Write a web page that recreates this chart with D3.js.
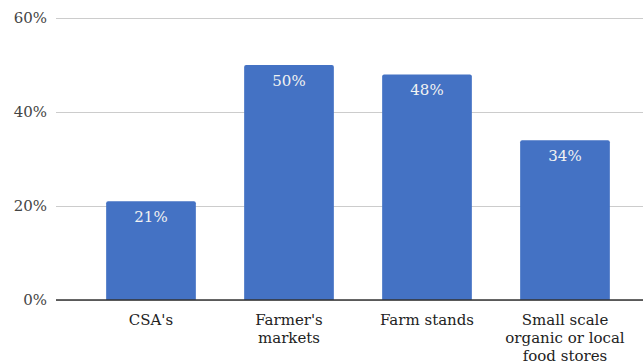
<!DOCTYPE html>
<html>
<head>
<meta charset="utf-8">
<script src="https://cdn.jsdelivr.net/npm/d3@7"></script>
<style>
  html, body { margin: 0; padding: 0; background: #fff; }
  svg { display: block; }
</style>
</head>
<body>
<svg id="chart" width="643" height="364"></svg>
<script>
// Share of respondents by outlet type
const categories = [
  ["CSA's"],
  ["Farmer's", "markets"],
  ["Farm stands"],
  ["Small scale", "organic or local", "food stores"]
];
const values = [21, 50, 48, 34];
const yTicks = [0, 20, 40, 60];

const FONT = "'DejaVu Serif', serif";
const FS = 15;

const svg = d3.select("#chart");
const width = 643, height = 364;
const plotTop = 18, plotBottom = 300;

const x = d3.scaleBand()
  .domain(d3.range(categories.length))
  .range([82, 634])
  .paddingInner(0.35)
  .paddingOuter(0.175);

const y = d3.scaleLinear().domain([0, 60]).range([plotBottom, plotTop]);

// Horizontal gridlines with percentage labels
const yAxis = d3.axisLeft(y)
  .tickValues(yTicks)
  .tickFormat(d => d + "%")
  .tickSize(-(width - 56))
  .tickPadding(9);

const gy = svg.append("g")
  .attr("transform", "translate(56,0)")
  .call(yAxis)
  .attr("font-family", FONT)
  .attr("font-size", FS);
gy.select(".domain").remove();
gy.selectAll(".tick line").attr("stroke", "#cccccc").attr("stroke-width", 1.2);
gy.selectAll(".tick text").attr("fill", "#444");

// Bars
svg.append("g").selectAll("path")
  .data(values)
  .join("path")
  .attr("fill", "#4472c4")
  .attr("d", (d, i) => {
    const x0 = x(i), w = x.bandwidth(), y0 = y(d), r = 2;
    return `M${x0},${plotBottom}V${y0 + r}Q${x0},${y0} ${x0 + r},${y0}H${x0 + w - r}Q${x0 + w},${y0} ${x0 + w},${y0 + r}V${plotBottom}Z`;
  });

// Baseline
svg.append("line")
  .attr("x1", 56).attr("x2", width)
  .attr("y1", y(0)).attr("y2", y(0))
  .attr("stroke", "#333").attr("stroke-width", 1.3);

// Value labels inside bars
svg.append("g")
  .attr("font-family", FONT)
  .attr("font-size", FS)
  .selectAll("text")
  .data(values)
  .join("text")
  .attr("x", (d, i) => x(i) + x.bandwidth() / 2)
  .attr("y", d => y(d) + 21)
  .attr("text-anchor", "middle")
  .attr("fill", "#f2f2f2")
  .text(d => d + "%");

// Category labels
const cat = svg.append("g")
  .attr("font-family", FONT)
  .attr("font-size", FS)
  .selectAll("text")
  .data(categories)
  .join("text")
  .attr("text-anchor", "middle")
  .attr("fill", "#222")
  .attr("x", (d, i) => x(i) + x.bandwidth() / 2)
  .attr("y", 325);
cat.selectAll("tspan")
  .data(d => d)
  .join("tspan")
  .attr("x", function () { return d3.select(this.parentNode).attr("x"); })
  .attr("dy", (d, j) => j === 0 ? 0 : 18)
  .text(d => d);
</script>
</body>
</html>
